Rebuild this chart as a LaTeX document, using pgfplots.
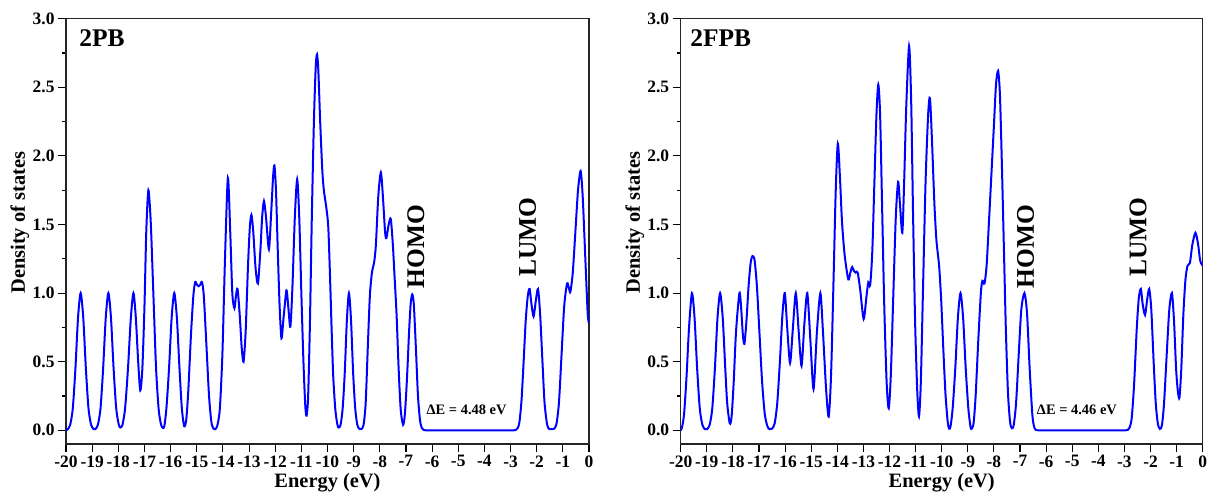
\documentclass[border=0pt]{standalone}
\usepackage{pgfplots}
\pgfplotsset{compat=1.18}
\usepackage{fontspec}
\setmainfont{Liberation Serif}
\definecolor{dosblue}{RGB}{0,0,255}

\pgfplotsset{dosaxis/.style={
  scale only axis, width=523bp, height=425.3bp,
  xmin=-20, xmax=0, ymin=-0.1, ymax=3.0,
  xtick={-20,-19,...,0}, ytick={0,0.5,...,3.0},
  minor y tick num=1,
  xtick pos=left, ytick pos=left,
  tick align=outside,
  major tick length=8bp, minor tick length=4bp,
  every tick/.style={black, line width=1.1bp},
  axis line style={line width=1.3bp, black!85},
  /pgf/number format/assume math mode=true,
  ticklabel style={font=\fontsize{17.5}{18}\selectfont\bfseries},
  yticklabel style={/pgf/number format/fixed, /pgf/number format/fixed zerofill, /pgf/number format/precision=1},
  xticklabel style={/pgf/number format/fixed, /pgf/number format/precision=0},
  label style={font=\fontsize{20.5}{22}\selectfont\bfseries},
  xlabel={Energy (eV)},
  ylabel={Density of states},
  xlabel style={at={(axis description cs:0.5,-0.0917)}, anchor=center},
  ylabel style={at={(axis description cs:-0.088,0.52)}, anchor=center},
  every axis plot/.style={dosblue, line width=2bp, smooth, tension=0.45, no markers},
}}

\pgfplotstableread{
x y
-20 0
-19.94 0.006
-19.84 0.04
-19.74 0.16
-19.64 0.45
-19.54 0.82
-19.44 1.0
-19.34 0.82
-19.24 0.45
-19.14 0.16
-19.04 0.04
-18.94 0.008
-18.88 0.008
-18.78 0.04
-18.68 0.16
-18.58 0.45
-18.48 0.82
-18.38 1.0
-18.28 0.82
-18.18 0.45
-18.08 0.16
-17.98 0.04
-17.92 0.02
-17.84 0.04
-17.74 0.16
-17.63 0.45
-17.52 0.82
-17.42 1.0
-17.33 0.82
-17.24 0.5
-17.16 0.29
-17.08 0.45
-17.0 0.9
-16.93 1.45
-16.85 1.75
-16.76 1.52
-16.66 1.0
-16.56 0.47
-16.46 0.16
-16.37 0.045
-16.3 0.018
-16.24 0.03
-16.16 0.16
-16.06 0.45
-15.96 0.82
-15.86 1.0
-15.76 0.82
-15.66 0.45
-15.57 0.16
-15.48 0.03
-15.40 0.08
-15.32 0.3
-15.22 0.7
-15.13 0.98
-15.06 1.08
-14.99 1.06
-14.93 1.05
-14.87 1.06
-14.80 1.08
-14.73 0.98
-14.63 0.62
-14.53 0.25
-14.44 0.06
-14.36 0.012
-14.3 0.008
-14.22 0.03
-14.12 0.15
-14.02 0.55
-13.92 1.25
-13.81 1.84
-13.72 1.45
-13.64 1.0
-13.56 0.89
-13.5 0.98
-13.44 1.03
-13.36 0.85
-13.28 0.6
-13.21 0.50
-13.13 0.72
-13.04 1.2
-12.97 1.48
-12.91 1.57
-12.84 1.45
-12.75 1.18
-12.66 1.07
-12.57 1.3
-12.5 1.55
-12.43 1.67
-12.35 1.55
-12.24 1.32
-12.15 1.6
-12.08 1.85
-12.03 1.93
-11.97 1.75
-11.9 1.3
-11.83 0.9
-11.76 0.67
-11.68 0.82
-11.57 1.02
-11.5 0.9
-11.42 0.755
-11.34 1.05
-11.25 1.55
-11.16 1.83
-11.08 1.55
-11.0 1.0
-10.92 0.5
-10.85 0.18
-10.80 0.107
-10.74 0.25
-10.67 0.8
-10.6 1.55
-10.52 2.25
-10.45 2.65
-10.40 2.74
-10.35 2.62
-10.28 2.25
-10.2 1.9
-10.14 1.75
-10.05 1.63
-9.97 1.48
-9.9 1.1
-9.84 0.72
-9.78 0.39
-9.7 0.15
-9.62 0.04
-9.57 0.02
-9.5 0.04
-9.42 0.16
-9.34 0.42
-9.26 0.8
-9.18 1.0
-9.1 0.8
-9.02 0.42
-8.94 0.16
-8.86 0.04
-8.78 0.01
-8.7 0.01
-8.62 0.04
-8.54 0.2
-8.46 0.6
-8.38 0.98
-8.30 1.15
-8.22 1.22
-8.15 1.35
-8.06 1.7
-7.96 1.88
-7.88 1.7
-7.8 1.45
-7.75 1.40
-7.66 1.5
-7.58 1.54
-7.5 1.35
-7.43 1.1
-7.36 0.85
-7.28 0.45
-7.2 0.15
-7.11 0.04
-7.04 0.12
-6.96 0.38
-6.88 0.72
-6.82 0.92
-6.76 0.99
-6.7 0.92
-6.62 0.6
-6.54 0.25
-6.46 0.07
-6.39 0.015
-6.32 0.002
-6.25 0
-6.15 0
-6.0 0
-5.5 0
-5.0 0
-4.5 0
-4.0 0
-3.5 0
-3.0 0
-2.88 0
-2.8 0.002
-2.73 0.015
-2.66 0.06
-2.58 0.22
-2.5 0.5
-2.42 0.8
-2.34 0.98
-2.27 1.03
-2.2 0.92
-2.12 0.83
-2.03 0.95
-1.95 1.03
-1.87 0.85
-1.78 0.5
-1.7 0.2
-1.6 0.04
-1.52 0.01
-1.44 0.008
-1.35 0.01
-1.25 0.04
-1.15 0.2
-1.05 0.55
-0.95 0.9
-0.84 1.07
-0.76 1.03
-0.71 1.01
-0.62 1.15
-0.52 1.45
-0.42 1.75
-0.32 1.89
-0.24 1.7
-0.14 1.25
-0.05 0.85
0 0.78
}\dosA

\pgfplotstableread{
x y
-20 0.0
-19.95 0.02
-19.87 0.12
-19.78 0.38
-19.68 0.75
-19.57 1.0
-19.47 0.82
-19.37 0.45
-19.27 0.16
-19.17 0.04
-19.07 0.008
-18.99 0.008
-18.89 0.04
-18.79 0.16
-18.69 0.45
-18.59 0.82
-18.49 1.0
-18.39 0.82
-18.3 0.48
-18.22 0.2
-18.12 0.05
-18.05 0.1
-17.97 0.35
-17.88 0.72
-17.75 1.0
-17.68 0.88
-17.62 0.7
-17.56 0.63
-17.48 0.8
-17.4 1.05
-17.32 1.22
-17.25 1.27
-17.17 1.24
-17.08 1.05
-16.98 0.7
-16.88 0.35
-16.78 0.12
-16.68 0.03
-16.6 0.008
-16.5 0.012
-16.4 0.05
-16.3 0.2
-16.2 0.5
-16.1 0.85
-16.01 1.0
-15.92 0.75
-15.81 0.49
-15.7 0.75
-15.59 1.0
-15.48 0.72
-15.37 0.47
-15.26 0.78
-15.15 1.0
-15.03 0.65
-14.91 0.30
-14.78 0.72
-14.65 1.0
-14.55 0.72
-14.43 0.3
-14.33 0.10
-14.24 0.4
-14.15 1.05
-14.06 1.75
-13.98 2.09
-13.9 1.85
-13.82 1.52
-13.72 1.28
-13.58 1.10
-13.5 1.15
-13.43 1.19
-13.36 1.16
-13.3 1.15
-13.22 1.15
-13.12 1.02
-12.99 0.81
-12.88 0.98
-12.81 1.08
-12.74 1.06
-12.66 1.3
-12.58 1.8
-12.5 2.3
-12.43 2.52
-12.36 2.3
-12.28 1.6
-12.2 0.9
-12.11 0.35
-12.03 0.16
-11.95 0.4
-11.86 0.95
-11.76 1.55
-11.67 1.81
-11.6 1.65
-11.51 1.44
-11.44 1.8
-11.36 2.35
-11.25 2.80
-11.17 2.4
-11.1 1.6
-11.02 0.8
-10.94 0.3
-10.87 0.10
-10.8 0.35
-10.72 1.0
-10.62 1.8
-10.52 2.3
-10.45 2.42
-10.37 2.1
-10.28 1.65
-10.2 1.38
-10.1 1.2
-10.02 0.95
-9.94 0.6
-9.86 0.28
-9.78 0.08
-9.72 0.012
-9.66 0.03
-9.58 0.16
-9.48 0.45
-9.38 0.82
-9.28 1.0
-9.18 0.82
-9.08 0.45
-8.98 0.16
-8.9 0.03
-8.86 0.01
-8.78 0.05
-8.7 0.25
-8.6 0.65
-8.5 1.0
-8.44 1.09
-8.36 1.07
-8.28 1.2
-8.2 1.48
-8.1 1.85
-8.0 2.22
-7.92 2.52
-7.84 2.62
-7.77 2.45
-7.7 1.98
-7.62 1.35
-7.54 0.72
-7.46 0.27
-7.38 0.06
-7.31 0.015
-7.24 0.04
-7.15 0.2
-7.05 0.55
-6.95 0.88
-6.83 1.0
-6.73 0.85
-6.63 0.45
-6.53 0.12
-6.46 0.025
-6.39 0.003
-6.32 0
-6.2 0
-6.0 0
-5.5 0
-5.0 0
-4.5 0
-4.0 0
-3.5 0
-3.1 0
-2.95 0
-2.87 0.003
-2.8 0.02
-2.72 0.09
-2.63 0.33
-2.53 0.73
-2.45 0.96
-2.37 1.03
-2.3 0.92
-2.21 0.84
-2.13 0.95
-2.05 1.03
-1.97 0.88
-1.88 0.5
-1.8 0.2
-1.72 0.05
-1.64 0.01
-1.56 0.04
-1.48 0.2
-1.38 0.55
-1.28 0.88
-1.18 1.0
-1.1 0.8
-1.02 0.45
-0.95 0.28
-0.89 0.24
-0.82 0.45
-0.74 0.85
-0.66 1.1
-0.58 1.2
-0.49 1.22
-0.4 1.35
-0.28 1.44
-0.18 1.36
-0.1 1.24
-0.04 1.21
0 1.2
}\dosB

\begin{document}
\begin{tikzpicture}
\path[use as bounding box] (0,0) rectangle (1207bp,492bp);
\begin{axis}[dosaxis, at={(66bp,48bp)}, anchor=south west]
\addplot table[x=x,y=y] {\dosA};
\node[anchor=west, font=\fontsize{25.5}{26}\selectfont\bfseries] at (axis cs:-19.62,2.86) {2PB};
\node[rotate=90, font=\fontsize{25.5}{26}\selectfont\bfseries] at (axis cs:-6.62,1.34) {HOMO};
\node[rotate=90, font=\fontsize{25.5}{26}\selectfont\bfseries] at (axis cs:-2.35,1.41) {LUMO};
\node[font=\fontsize{14.5}{15}\selectfont\bfseries] at (axis cs:-4.68,0.15) {ΔE = 4.48 eV};
\end{axis}
\begin{axis}[dosaxis, width=522bp, at={(680.7bp,48bp)}, anchor=south west]
\addplot table[x=x,y=y] {\dosB};
\node[anchor=west, font=\fontsize{25.5}{26}\selectfont\bfseries] at (axis cs:-19.76,2.86) {2FPB};
\node[rotate=90, font=\fontsize{25.5}{26}\selectfont\bfseries] at (axis cs:-6.79,1.34) {HOMO};
\node[rotate=90, font=\fontsize{25.5}{26}\selectfont\bfseries] at (axis cs:-2.48,1.41) {LUMO};
\node[font=\fontsize{14.5}{15}\selectfont\bfseries] at (axis cs:-4.82,0.146) {ΔE = 4.46 eV};
\end{axis}
\end{tikzpicture}
\end{document}
